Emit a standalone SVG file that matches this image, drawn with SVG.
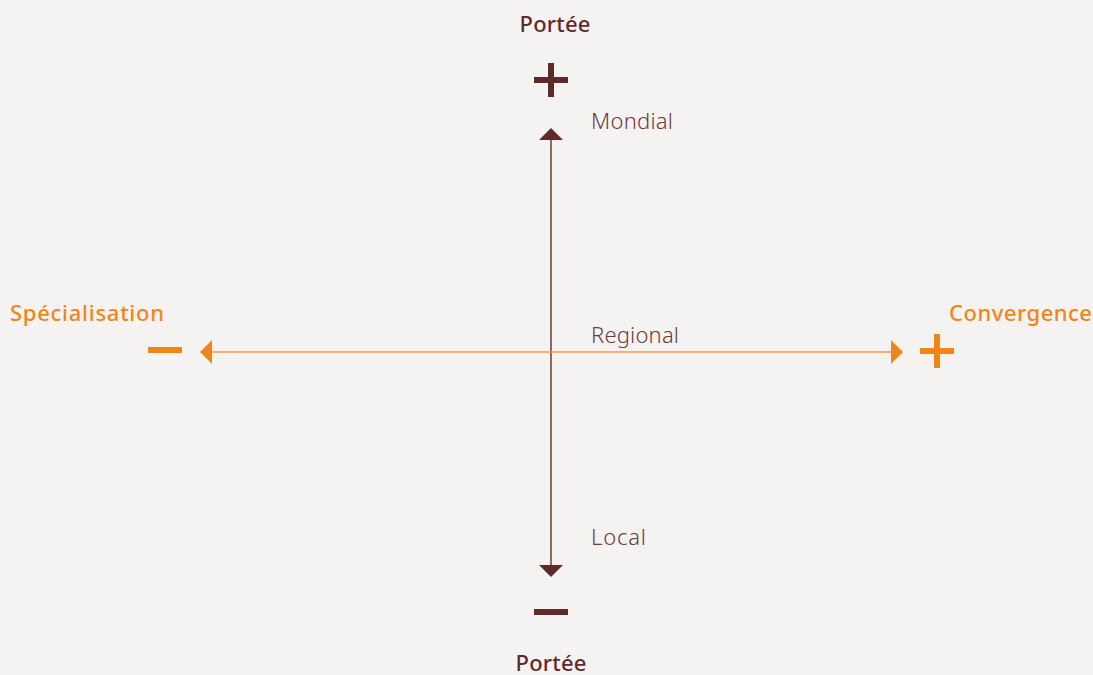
<svg xmlns="http://www.w3.org/2000/svg" width="1093" height="675" viewBox="0 0 1093 675">
<style>
.bg{fill:#f5f3f1}
.t{font-family:"Noto Sans","Liberation Sans",sans-serif;font-size:22px}
.head{font-weight:500}
.lab{font-weight:300;fill:#6e3a3d}
.maroon{fill:#5e2a2c}
.orange{fill:#f0861a}
</style>
<rect class="bg" width="1093" height="675"/>
<g id="connectors">
<line x1="551" y1="138" x2="551" y2="567" stroke="#6e3a3d" stroke-width="1.5"/>
<polygon class="maroon" points="551,128 563,140 539,140"/>
<polygon class="maroon" points="551,577 563,565 539,565"/>
<line x1="210" y1="352" x2="893" y2="352" stroke="#f29a45" stroke-width="1.5"/>
<polygon class="orange" points="200,352 212,340 212,364"/>
<polygon class="orange" points="903,352 891,340 891,364"/>
</g>
<g id="portee-top">
<text class="t head maroon" x="555" y="32" text-anchor="middle" textLength="71">Portée</text>
<rect class="maroon" x="534" y="77" width="34" height="6"/>
<rect class="maroon" x="548" y="63" width="6" height="34"/>
</g>
<g id="portee-bottom">
<rect class="maroon" x="534" y="609" width="34" height="6"/>
<text class="t head maroon" x="551" y="671" text-anchor="middle" textLength="71">Portée</text>
</g>
<g id="specialisation">
<text class="t head orange" x="10" y="321" textLength="154">Spécialisation</text>
<rect class="orange" x="148" y="347" width="34" height="6"/>
</g>
<g id="convergence">
<text class="t head orange" x="949" y="321" textLength="143">Convergence</text>
<rect class="orange" x="920" y="348" width="34" height="6"/>
<rect class="orange" x="934" y="334" width="6" height="34"/>
</g>
<g id="mondial"><text class="t lab" x="591" y="129" textLength="82">Mondial</text></g>
<g id="regional"><text class="t lab" x="591" y="343" textLength="88">Regional</text></g>
<g id="local"><text class="t lab" x="591" y="545" textLength="55">Local</text></g>
</svg>
